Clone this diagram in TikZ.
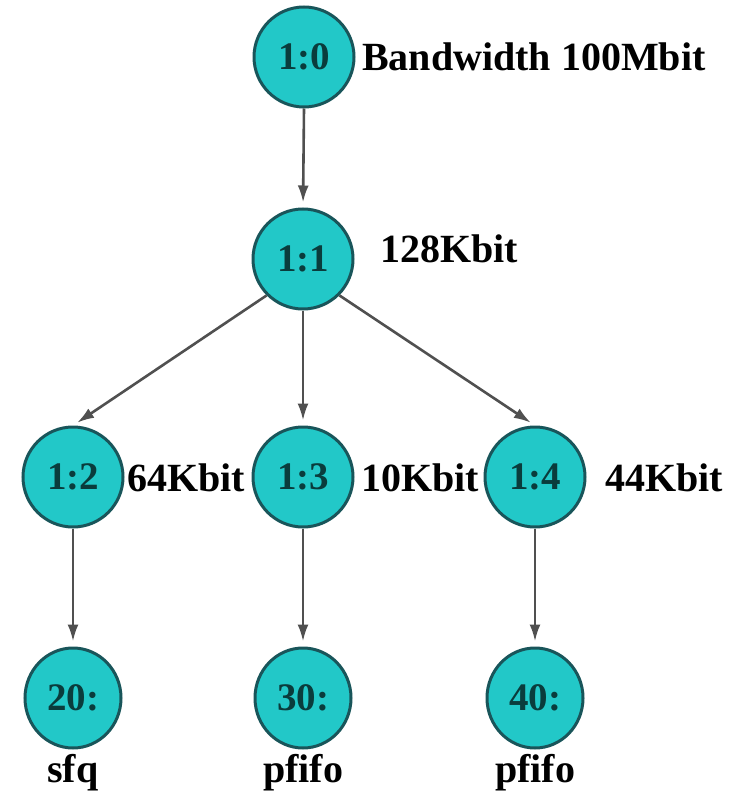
\documentclass[tikz,border=0pt]{standalone}
\usepackage{fontspec}
\setmainfont{Liberation Serif}
\usetikzlibrary{arrows.meta,shapes.geometric}
\definecolor{qfill}{RGB}{34,200,200}
\definecolor{qedge}{RGB}{25,85,90}
\definecolor{qtext}{RGB}{10,60,60}
\definecolor{qarrow}{RGB}{80,80,80}
\tikzset{
  qnode/.style={ellipse, draw=qedge, line width=3pt, fill=qfill,
    minimum width=100pt, minimum height=100pt, inner sep=0pt, text=qtext,
    font=\fontsize{39}{39}\selectfont\bfseries},
  qlab/.style={anchor=west, inner sep=0pt, text=black,
    font=\fontsize{40}{40}\selectfont\bfseries},
  qname/.style={anchor=base, inner sep=0pt, text=black,
    font=\fontsize{40}{40}\selectfont\bfseries},
  qarr/.style={draw=qarrow, line width=2.6pt,
    -{Latex[length=17pt,width=11pt]}, shorten >=5pt}
}
\begin{document}
\begin{tikzpicture}[x=1pt,y=-1pt]
\useasboundingbox (0,0) rectangle (729,794);
\node[qnode] (n10) at (304,57) {1:0};
\node[qnode] (n11) at (303,259) {1:1};
\node[qnode] (n12) at (73,477) {1:2};
\node[qnode] (n13) at (303,477) {1:3};
\node[qnode] (n14) at (535,477) {1:4};
\node[qnode, minimum width=96pt] (n20) at (73,698) {20:};
\node[qnode, minimum width=96pt] (n30) at (303,698) {30:};
\node[qnode, minimum width=96pt] (n40) at (535,698) {40:};
\node[qlab] (l10) at (362,57) {Bandwidth 100Mbit};
\node[qlab] (l11) at (380,249) {128Kbit};
\node[qlab] (l12) at (127,478) {64Kbit};
\node[qlab] (l13) at (361,478) {10Kbit};
\node[qlab] (l14) at (605,478) {44Kbit};
\node[qname] (s20) at (73,782) {sfq};
\node[qname] (s30) at (303,782) {pfifo};
\node[qname] (s40) at (535,782) {pfifo};
\draw[qarr] (n10.south) -- (n11.north);
\draw[qarr] (n11.225) -- (n12.north);
\draw[qarr] (n11.south) -- (n13.north);
\draw[qarr] (n11.315) -- (n14.north);
\draw[qarr] (n12.south) -- (n20.north);
\draw[qarr] (n13.south) -- (n30.north);
\draw[qarr] (n14.south) -- (n40.north);
\end{tikzpicture}
\end{document}
